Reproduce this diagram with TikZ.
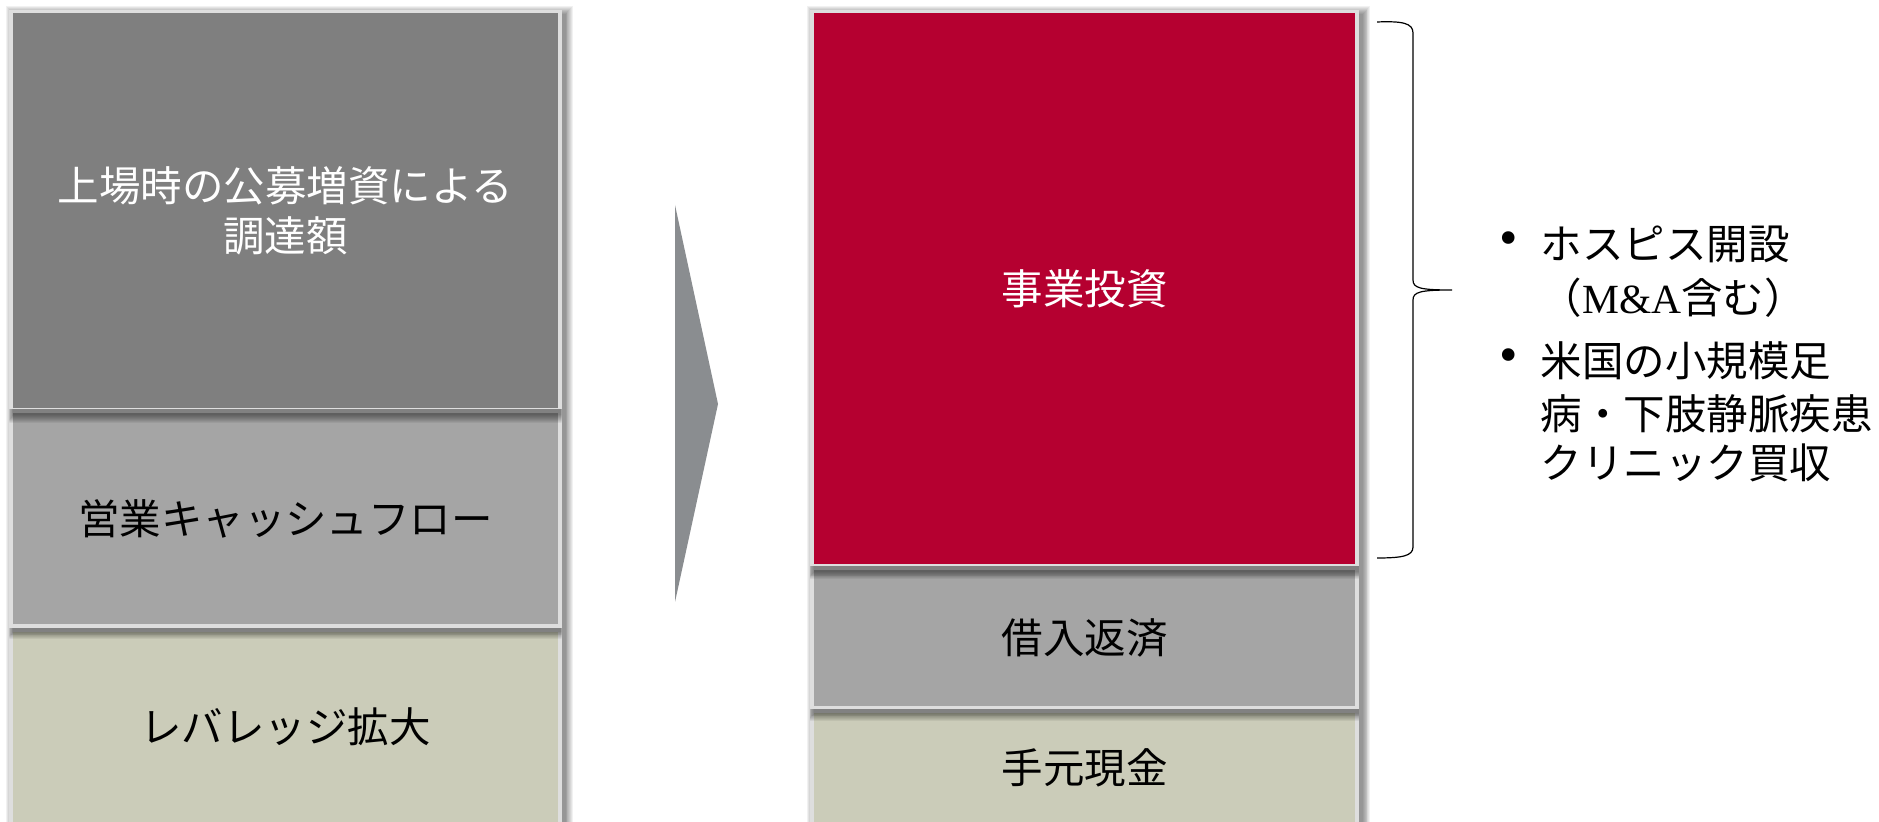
\documentclass[tikz,border=0pt]{standalone}
\usepackage{fontspec}
\setmainfont{Liberation Serif}
\newfontfamily\jp{Noto Sans CJK JP}
\usetikzlibrary{backgrounds}
\definecolor{darkbox}{HTML}{7F7F7F}
\definecolor{midbox}{HTML}{A5A5A5}
\definecolor{khakibox}{HTML}{CBCCB9}
\definecolor{redbox}{HTML}{B50030}
\definecolor{arrowgray}{HTML}{8A8D90}
\definecolor{framegray}{HTML}{DEDEDE}
% soft shadow between two corner points
\newcommand\mkshade[2]{%
  \foreach \k in {0,...,8}{%
    \fill[black, opacity=0.055]
      ([shift={(-\k*0.9+4,-\k*0.9+4)}]#1) rectangle
      ([shift={(\k*0.9+4,\k*0.9+4)}]#2);}}
\begin{document}
\begin{tikzpicture}[x=0.01cm,y=-0.01cm,
  blk/.style={draw=framegray, line width=0.035cm, inner sep=0pt, align=center,
    font=\jp\fontsize{11.8pt}{14.2pt}\selectfont},
  leftblk/.style={blk, minimum width=5.485cm},
  rightblk/.style={blk, minimum width=5.45cm},
  txt/.style={inner sep=0pt, anchor=west, font=\jp\fontsize{11.8pt}{14.2pt}\selectfont},
  bul/.style={inner sep=0pt, font=\fontsize{15pt}{15pt}\selectfont},
  braceline/.style={line width=0.012cm, draw=black}
]
\useasboundingbox (0,0) rectangle (1879,822);
\begin{scope}
\clip (0,0) rectangle (1879,822);
% left column
\node[leftblk, fill=darkbox, text=white, minimum height=3.98cm] (ipo) at (285.5,210.5) {上場時の公募増資による\\調達額};
\node[leftblk, fill=midbox, text=black, minimum height=2.15cm] (ocf) at (285.5,518.5) {営業キャッシュフロー};
\node[leftblk, fill=khakibox, text=black, minimum height=1.94cm] (lev) at (285.5,727) {レバレッジ拡大};
% right column
\node[rightblk, fill=redbox, text=white, minimum height=5.545cm] (inv) at (1084.5,288.75) {事業投資};
\node[rightblk, fill=midbox, text=black, minimum height=1.395cm] (debt) at (1084.5,638.25) {借入返済};
\node[rightblk, fill=khakibox, text=black, minimum height=1.13cm] (cash) at (1084.5,767.5) {手元現金};
% shadows cast by upper blocks onto lower ones
\begin{scope}
\clip (ocf.north west) rectangle (ocf.south east);
\mkshade{ipo.north west}{ipo.south east}
\end{scope}
\begin{scope}
\clip (lev.north west) rectangle (lev.south east);
\mkshade{ocf.north west}{ocf.south east}
\end{scope}
\begin{scope}
\clip (debt.north west) rectangle (debt.south east);
\mkshade{inv.north west}{inv.south east}
\end{scope}
\begin{scope}
\clip (cash.north west) rectangle (cash.south east);
\mkshade{debt.north west}{debt.south east}
\end{scope}
\end{scope}
\begin{scope}[on background layer]
\fill[white] (0,0) rectangle (1879,822);
\clip (0,0) rectangle (1879,822);
\mkshade{ipo.north west}{lev.south east}
\mkshade{inv.north west}{cash.south east}
\end{scope}
% arrow
\fill[arrowgray] (675,205) -- (718,404) -- (675,602) -- cycle;
% brace
\draw[braceline] (1377,22) .. controls (1402,21) and (1413,23) .. (1413,33) -- (1413,280)
  .. controls (1413,288) and (1420,290) .. (1452,290)
  .. controls (1420,290) and (1413,292) .. (1413,300) -- (1413,547)
  .. controls (1413,556) and (1402,558) .. (1377,558);
% bullet texts
\node[bul] (b1) at (1509,244) {•};
\node[txt] (t1) at (1540,244) {ホスピス開設};
\node[txt] (t2) at (1540,298) {（{\rmfamily M\&A}含む）};
\node[bul] (b2) at (1509,361) {•};
\node[txt] (t3) at (1540,361) {米国の小規模足};
\node[txt] (t4) at (1540,414) {病・下肢静脈疾患};
\node[txt] (t5) at (1540,463) {クリニック買収};
\end{tikzpicture}
\end{document}
